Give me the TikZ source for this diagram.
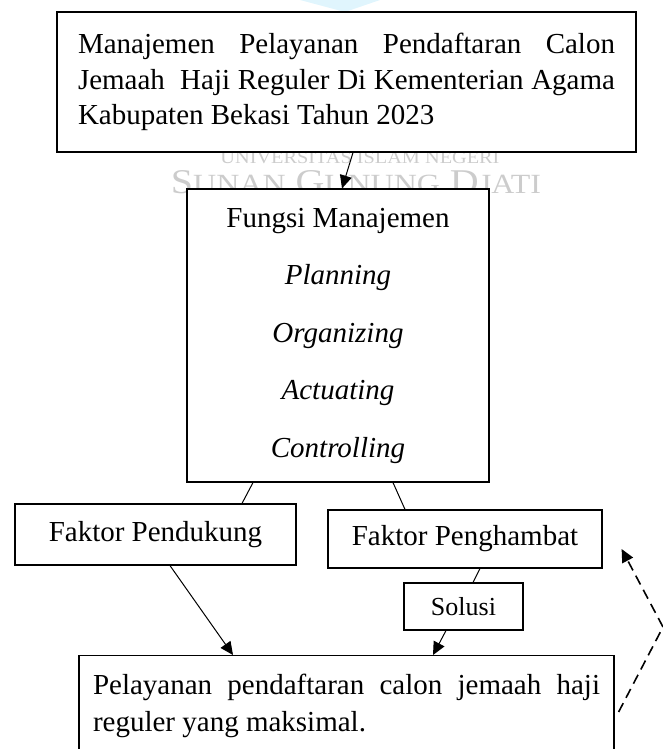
\documentclass[tikz,border=0pt]{standalone}
\usepackage{fontspec}
\setmainfont{Liberation Serif}
\usepackage{graphicx}
\usetikzlibrary{arrows.meta}
\begin{document}
\begin{tikzpicture}[x=1pt,y=-1pt,>={Triangle[length=13pt,width=12pt]},
  kotak/.style={draw,line width=1.2pt,fill=white,inner sep=0pt,font=\fontsize{29}{35.5}\selectfont},
  garis/.style={line width=1pt},
  tanda/.style={text=black!20,inner sep=0pt}]
\useasboundingbox (0,0) rectangle (663,749);
\fill[cyan!12] (300,0)--(380,0)--(345,12)--cycle;
\node[tanda] (wm1) at (360,158) {\resizebox{279pt}{12pt}{UNIVERSITAS ISLAM NEGERI}};
\node[tanda] (wm2) at (356,182) {\resizebox{370pt}{23pt}{\fontsize{30}{30}\selectfont S{\fontsize{24}{24}\selectfont UNAN} G{\fontsize{24}{24}\selectfont UNUNG} D{\fontsize{24}{24}\selectfont JATI}}};
\node[kotak,text width=537pt,inner xsep=21pt,minimum height=140pt,align=justify] (judul) at (346.5,82)
  {Manajemen Pelayanan Pendaftaran Calon\linebreak Jemaah\ \ Haji Reguler Di Kementerian Agama\linebreak Kabupaten Bekasi Tahun 2023};
\node[kotak,minimum width=302pt,minimum height=293pt,align=center,font=\fontsize{29}{57.5}\selectfont] (fungsi) at (338,335.5)
  {Fungsi Manajemen\\\textit{Planning}\\\textit{Organizing}\\\textit{Actuating}\\\textit{Controlling}};
\node[kotak,minimum width=281pt,minimum height=61pt] (dukung) at (155.5,534.5) {Faktor Pendukung};
\node[kotak,minimum width=274pt,minimum height=58pt] (hambat) at (465,539) {Faktor Penghambat};
\node[kotak,minimum width=119pt,minimum height=47pt,font=\fontsize{26}{30}\selectfont] (solusi) at (463.5,606.5) {Solusi};
\node[kotak,anchor=north,text width=507pt,inner xsep=14pt,inner ysep=18pt,align=justify,font=\fontsize{29}{37}\selectfont] (hasil) at (346.5,655)
  {Pelayanan pendaftaran calon jemaah haji reguler yang maksimal.};
\draw[garis,->] ([xshift=6.5pt]judul.south) -- ([xshift=4pt]fungsi.north);
\draw[garis] ([xshift=-85pt]fungsi.south) -- ([xshift=86.5pt]dukung.north);
\draw[garis] ([xshift=55pt]fungsi.south) -- ([xshift=-60pt]hambat.north);
\draw[garis,->] ([xshift=14.5pt]dukung.south) -- ([xshift=-113.5pt]hasil.north);
\draw[garis] ([xshift=15pt]hambat.south) -- ([xshift=9.5pt]solusi.north);
\draw[garis,->] ([xshift=-17.5pt]solusi.south) -- ([xshift=86.5pt]hasil.north);
\coordinate (tekuk) at (663,627);
\draw[line width=1.6pt,dash pattern=on 10pt off 6pt,->] ([xshift=4pt,yshift=-57pt]hasil.north east) -- (tekuk) -- ([xshift=19pt,yshift=-10pt]hambat.east);
\end{tikzpicture}
\end{document}
